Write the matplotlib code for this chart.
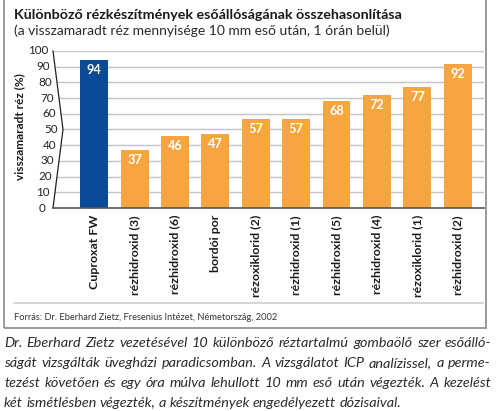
import numpy as np
import matplotlib.pyplot as plt
from matplotlib.patches import Rectangle

# chart data
products = ["Cuproxat FW", "rézhidroxid (3)", "rézhidroxid (6)", "bordói por",
            "rézoxiklorid (2)", "rézhidroxid (1)", "rézhidroxid (5)",
            "rézhidroxid (4)", "rézoxiklorid (1)", "rézhidroxid (2)"]
remaining = [94, 37, 46, 47, 57, 57, 68, 72, 77, 92]
yticks = [0, 10, 20, 30, 40, 50, 60, 70, 80, 90, 100]

title = "Különböző rézkészítmények esőállóságának összehasonlítása"
subtitle = "(a visszamaradt réz mennyisége 10 mm eső után, 1 órán belül)"
ylabel = "visszamaradt réz (%)"
source = "Forrás: Dr. Eberhard Zietz, Fresenius Intézet, Németország, 2002"
paragraph = [
    "Dr. Eberhard Zietz vezetésével 10 különböző réztartalmú gombaölő szer esőálló-",
    "ságát vizsgálták üvegházi paradicsomban. A vizsgálatot ICP analízissel, a perme-",
    "tezést követően és egy óra múlva lehullott 10 mm eső után végezték. A kezelést",
    "két ismétlésben végezték, a készítmények engedélyezett dózisaival.",
]

W, H = 496, 411
blue = "#0b4a97"
orange = "#f7a541"
font = "Lato"

plt.rcParams["font.family"] = [font, "DejaVu Sans"]

fig = plt.figure(figsize=(W / 100, H / 100), dpi=100)

def fx(px):
    return px / W

def fy(py):
    return 1 - py / H

# frame around the chart part
fig.patches.append(Rectangle((fx(4), fy(328)), fx(486) - fx(4), fy(-2) - fy(328),
                             transform=fig.transFigure, fill=False,
                             edgecolor="#8a8a8a", linewidth=1.2))
fig.add_artist(plt.Line2D([fx(14), fx(483)], [fy(303), fy(303)], color="#d0d0d0", linewidth=1.2))

fig.text(fx(14), fy(15), title, fontsize=10.3, fontweight="bold", color="#1a1a1a", va="center")
fig.text(fx(14), fy(31), subtitle, fontsize=10.0, color="#2a2a2a", va="center")
fig.text(fx(20), fy(127), ylabel, fontsize=8.5, fontweight="bold", rotation=90,
         ha="center", va="center", color="#1a1a1a")
fig.text(fx(14), fy(317), source, fontsize=6.7, color="#333333", va="center")

ax = fig.add_axes([fx(53), fy(208), fx(484) - fx(53), fy(51) - fy(208)])
x = np.arange(len(products))
x0, x1 = -1.02, 9.65
ax.set_xlim(x0, x1)
ax.set_ylim(0, 100)
for s in ax.spines.values():
    s.set_visible(False)
ax.set_yticks([])
ax.tick_params(axis="x", length=0, pad=5)

# bracket shaped value axis
def bracket(v):
    return x0 + 0.2475 * (1 - abs(v - 50) / 50)

ax.plot([bracket(0), bracket(50), bracket(100)], [0, 50, 100], color="#222222",
        linewidth=0.9, clip_on=False)
for v in yticks:
    if v == 0:
        continue
    ax.plot([bracket(v), x1], [v, v], color="#c4c4c4", linewidth=1.0, zorder=1)
    ax.annotate(str(v), (bracket(v), v), xytext=(-5, 0), textcoords="offset pixels",
                ha="right", va="center", fontsize=8.4, color="#222222")
ax.annotate("0", (bracket(0), 0), xytext=(-8, 0), textcoords="offset pixels",
            ha="right", va="center", fontsize=8.4, color="#222222")
ax.plot([x0, x1], [0, 0], color="#555555", linewidth=1.2, zorder=3, clip_on=False)

colors = [blue] + [orange] * (len(products) - 1)
bars = ax.bar(x, remaining, width=0.69, color=colors, zorder=2)
for b, v in zip(bars, remaining):
    ax.annotate(str(v), (b.get_x() + b.get_width() / 2, v), xytext=(0, -10),
                textcoords="offset pixels", ha="center", va="center",
                fontsize=9.2, fontweight="bold", color="white")

ax.set_xticks(x)
ax.set_xticklabels(products, rotation=90, fontsize=8.9, fontweight="bold",
                   color="#1a1a1a", va="top")

# justified italic paragraph below the frame
renderer = fig.canvas.get_renderer()
left, right = 4, 491
line_y = [343, 363, 383, 403]
psize = 10.4
for i, (line, py) in enumerate(zip(paragraph, line_y)):
    words = line.split(" ")
    arts = [fig.text(0, fy(py), w, fontsize=psize, style="italic", color="#2b2b2b",
                     va="center") for w in words]
    widths = [a.get_window_extent(renderer).width for a in arts]
    if i < len(paragraph) - 1:
        gap = (right - left - sum(widths)) / (len(words) - 1)
    else:
        gap = 3.2
    pos = left
    for a, w in zip(arts, widths):
        a.set_x(fx(pos))
        pos += w + gap

fig.savefig("out.png", dpi=100)
